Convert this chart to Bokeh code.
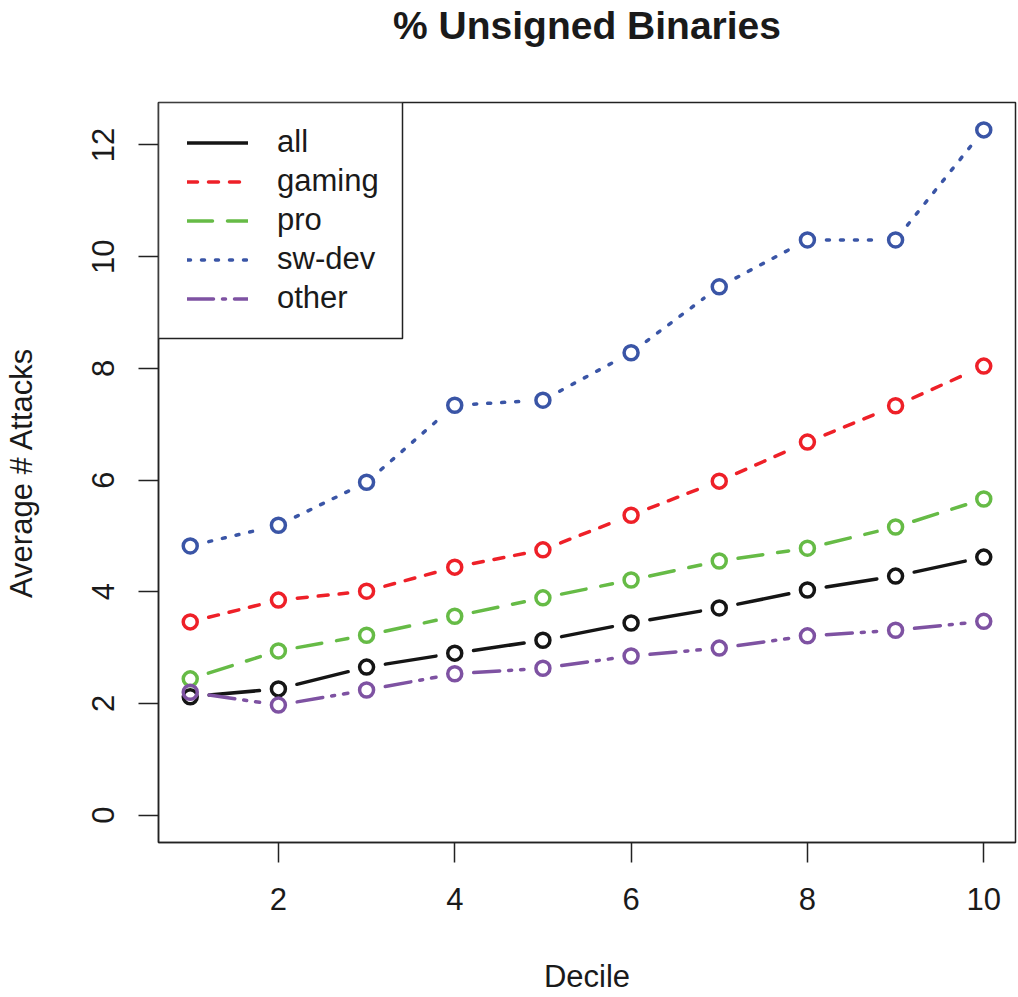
import math
from bokeh.plotting import figure
from bokeh.models import (Range1d, FixedTicker, Legend, LegendItem,
                          BoxAnnotation, Title)
from bokeh.core.properties import value
from bokeh.embed import file_html
from bokeh.resources import INLINE

# ---- data ----
deciles = [1, 2, 3, 4, 5, 6, 7, 8, 9, 10]
all_v = [2.12, 2.26, 2.65, 2.90, 3.13, 3.44, 3.71, 4.03, 4.28, 4.62]
gaming = [3.46, 3.85, 4.01, 4.44, 4.75, 5.37, 5.98, 6.68, 7.33, 8.04]
pro = [2.44, 2.94, 3.22, 3.56, 3.89, 4.21, 4.55, 4.78, 5.16, 5.66]
swdev = [4.82, 5.19, 5.96, 7.34, 7.43, 8.28, 9.46, 10.30, 10.30, 12.27]
other = [2.20, 1.97, 2.24, 2.53, 2.63, 2.85, 2.99, 3.21, 3.31, 3.47]
series_names = ["all", "gaming", "pro", "sw-dev", "other"]
x_ticks = [2, 4, 6, 8, 10]
y_ticks = [0, 2, 4, 6, 8, 10, 12]
title_text = "% Unsigned Binaries"

series_vals = [all_v, gaming, pro, swdev, other]
colors = ["#151515", "#EE2028", "#66BB46", "#3A55A6", "#7E52A2"]
dashes = ["solid", "10 11", "25 15", "3 11", "26 9 3 9"]

FONT = "Liberation Sans"
W, H = 1018, 997
BL, BR, BT, BB = 158, 3, 102, 155
FW, FH = W - BL - BR, H - BT - BB

# R-style 4% range extension
xmin, xmax = min(deciles), max(deciles)
ymin, ymax = 0.0, max(max(s) for s in series_vals)
xr = (xmin - 0.04 * (xmax - xmin), xmax + 0.04 * (xmax - xmin))
yr = (ymin - 0.04 * (ymax - ymin), ymax + 0.04 * (ymax - ymin))

p = figure(width=W, height=H, output_backend="svg", toolbar_location=None,
           x_range=Range1d(*xr), y_range=Range1d(*yr),
           min_border_left=BL, min_border_right=BR,
           min_border_top=BT, min_border_bottom=BB)
p.xgrid.visible = False
p.ygrid.visible = False
p.outline_line_color = "#222222"
p.outline_line_width = 1.5
p.outline_line_alpha = 1.0
p.background_fill_color = "white"
p.border_fill_color = "white"

# spacer panel between frame and title, then the title itself (outermost)
spacer = Title(text=" ", text_font_size="1px", standoff=52)
p.add_layout(spacer, "above")
main_title = Title(text=title_text, text_font=FONT, text_font_size="39px",
                   text_font_style="bold", text_color="#1a1a1a",
                   align="center", standoff=2)
p.add_layout(main_title, "above")

for ax, ticks in ((p.xaxis[0], x_ticks), (p.yaxis[0], y_ticks)):
    ax.ticker = FixedTicker(ticks=ticks)
    ax.major_tick_out = 20
    ax.major_tick_in = 0
    ax.minor_tick_out = 0
    ax.minor_tick_in = 0
    ax.major_tick_line_color = "#222222"
    ax.major_tick_line_width = 1.5
    ax.axis_line_color = "#222222"
    ax.axis_line_width = 1.5
    ax.major_label_text_font = FONT
    ax.major_label_text_font_size = "31px"
    ax.major_label_text_color = "#1a1a1a"
    ax.axis_label_text_font = FONT
    ax.axis_label_text_font_size = "31px"
    ax.axis_label_text_font_style = "normal"
    ax.axis_label_text_color = "#1a1a1a"

p.xaxis.axis_label = "Decile"
p.xaxis.major_label_standoff = 25
p.xaxis.axis_label_standoff = 46
p.xaxis.major_label_text_line_height = 1.0
p.xaxis.axis_label_text_line_height = 1.0
p.yaxis.axis_label = "Average # Attacks"
p.yaxis.major_label_orientation = "vertical"
p.yaxis.major_label_standoff = 24
p.yaxis.axis_label_standoff = 51

# pixel scale to shorten segments around points (R type="b")
sx = FW / (xr[1] - xr[0])
sy = FH / (yr[1] - yr[0])
GAP = 19.0

# legend box (drawn as a box annotation hugging the frame's top-left corner)
LBOX_W, LBOX_H = 244, 236
legend_box = BoxAnnotation(left=xr[0], right=xr[0] + LBOX_W / sx,
                           top=yr[1], bottom=yr[1] - LBOX_H / sy,
                           fill_color="white", fill_alpha=1.0,
                           line_color="#222222", line_width=1.5,
                           line_alpha=1.0)

items = []
for name, vals, col, dash in zip(series_names, series_vals, colors, dashes):
    x0s, y0s, x1s, y1s = [], [], [], []
    for i in range(len(deciles) - 1):
        ax_, ay_ = deciles[i], vals[i]
        bx_, by_ = deciles[i + 1], vals[i + 1]
        L = math.hypot((bx_ - ax_) * sx, (by_ - ay_) * sy)
        if L <= 2 * GAP:
            continue
        f = GAP / L
        x0s.append(ax_ + (bx_ - ax_) * f)
        y0s.append(ay_ + (by_ - ay_) * f)
        x1s.append(bx_ - (bx_ - ax_) * f)
        y1s.append(by_ - (by_ - ay_) * f)
    seg = p.segment(x0=x0s, y0=y0s, x1=x1s, y1=y1s, line_color=col,
                    line_width=3.5, line_dash=value(dash), line_cap="round")
    p.scatter(x=deciles, y=vals, marker="circle", size=14, line_color=col,
              line_width=3.5, fill_alpha=0)
    items.append(LegendItem(label=name, renderers=[seg]))

p.add_layout(legend_box)

ROW_H, PAD = 39, 6
leg_h = 2 * PAD + ROW_H * len(series_names)
leg_top = 20.5 - PAD           # first row starts 20.5 px below frame top
leg_left = 29 - PAD            # glyphs start 29 px right of frame left
legend = Legend(items=items, location=(leg_left, FH - leg_top - leg_h),
                margin=0, padding=PAD, spacing=0,
                glyph_width=61, glyph_height=ROW_H, label_standoff=29,
                label_height=ROW_H,
                label_text_font=FONT, label_text_font_size="31px",
                label_text_color="#1a1a1a",
                border_line_alpha=0.0, background_fill_alpha=0.0)
p.add_layout(legend)

open("out.html", "w").write(file_html(p, INLINE))
